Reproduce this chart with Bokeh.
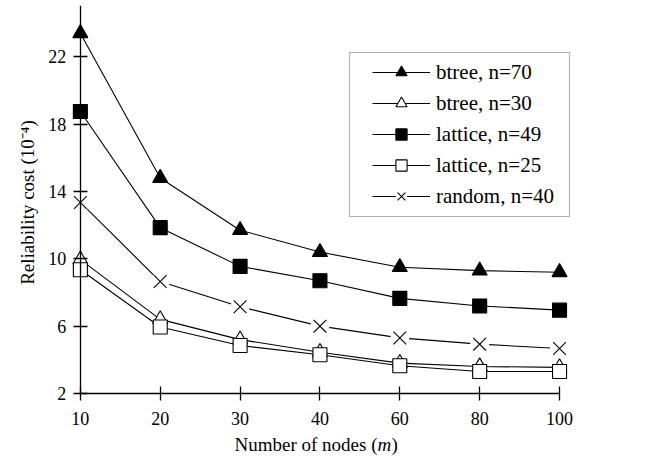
import math
from bokeh.plotting import figure
from bokeh.models import Range1d, FixedTicker, Legend, LegendItem, BoxAnnotation, Label
from bokeh.embed import file_html
from bokeh.resources import INLINE

# Number of nodes (m) – plotted at evenly spaced positions
nodes = ["10", "20", "30", "40", "60", "80", "100"]

# Reliability cost (x 1e-4) per topology
btree_70 = [23.4, 14.8, 11.7, 10.4, 9.5, 9.3, 9.2]
btree_30 = [9.95, 6.4, 5.2, 4.45, 3.8, 3.6, 3.55]
lattice_49 = [18.75, 11.85, 9.55, 8.7, 7.65, 7.2, 6.95]
lattice_25 = [9.35, 5.95, 4.85, 4.3, 3.65, 3.3, 3.3]
random_40 = [13.35, 8.65, 7.15, 6.0, 5.3, 4.93, 4.67]

y_ticks = [2, 6, 10, 14, 18, 22]

xs = list(range(len(nodes)))
FONT = "Liberation Serif"
Y_MIN, Y_MAX = 2, 25.05

# the frame fills the canvas to the left and bottom; both axes are pinned
# (x axis at y = 2, y axis at the first node) so nothing gets clipped
p = figure(width=645, height=466, output_backend="svg", toolbar_location=None,
           x_range=Range1d(-1.0, len(nodes) - 1 + 0.2), y_range=Range1d(-2.34, Y_MAX),
           min_border_left=0, min_border_right=70, min_border_top=5, min_border_bottom=0)
p.outline_line_color = None
p.grid.visible = False
p.background_fill_color = "white"
p.border_fill_color = "white"

for ax in (p.xaxis[0], p.yaxis[0]):
    ax.axis_line_color = "black"
    ax.axis_line_width = 1.3
    ax.major_tick_line_color = "black"
    ax.major_tick_line_width = 1.3
    ax.major_tick_in = 7
    ax.major_tick_out = 7
    ax.minor_tick_line_color = None
    ax.major_label_text_font = FONT
    ax.major_label_text_font_size = "18px"
    ax.major_label_text_color = "black"

p.xaxis.ticker = FixedTicker(ticks=xs)
p.xaxis.fixed_location = Y_MIN
p.xaxis.bounds = (0, len(nodes) - 1)
p.xaxis.major_label_overrides = {i: lab for i, lab in zip(xs, nodes)}
p.xaxis.major_label_standoff = 12

p.yaxis.ticker = FixedTicker(ticks=y_ticks)
p.yaxis.fixed_location = 0
p.yaxis.bounds = (Y_MIN, Y_MAX)
p.yaxis.major_label_standoff = 7

series = [
    ("btree, n=70", btree_70, "triangle", "black", 15),
    ("btree, n=30", btree_30, "triangle", "white", 15),
    ("lattice, n=49", lattice_49, "square", "black", 14),
    ("lattice, n=25", lattice_25, "square", "white", 14),
    ("random, n=40", random_40, "x", "black", 18),
]

items = []
for label, ys, marker, fill, size in series:
    rends = [p.line(xs, ys, line_color="black", line_width=1.1)]
    if marker == "x":
        # small white halo so the line stops short of each cross
        rends.append(p.scatter(xs, ys, marker="circle", size=19,
                               fill_color="white", line_color=None))
    rends.append(p.scatter(xs, ys, marker=marker, size=size, fill_color=fill,
                           line_color="black", line_width=1.1))
    items.append(LegendItem(label=label, renderers=rends))

legend = Legend(items=items, location=(372, 256), padding=8, spacing=3,
                glyph_width=58, glyph_height=28, label_height=28,
                label_standoff=6, label_width=110,
                label_text_font=FONT, label_text_font_size="21px",
                label_text_color="black",
                border_line_color=None, background_fill_alpha=0.0, margin=0)
p.add_layout(legend, "center")

# frame around the legend
p.add_layout(BoxAnnotation(left=349, right=569, top=52, bottom=216,
                           left_units="canvas", right_units="canvas",
                           top_units="canvas", bottom_units="canvas",
                           fill_alpha=0, line_color="black", line_width=1.2,
                           level="overlay"))

# axis titles (x title has an italic m)
lab_style = dict(x_units="canvas", y_units="canvas", text_font=FONT,
                 text_font_size="19px", text_color="black")
p.add_layout(Label(x=377, y=444, text="Number of nodes (", text_align="right",
                   text_baseline="alphabetic", **lab_style))
p.add_layout(Label(x=377, y=444, text="m", text_align="left", text_font_style="italic",
                   text_baseline="alphabetic", **lab_style))
p.add_layout(Label(x=391, y=444, text=")", text_align="left",
                   text_baseline="alphabetic", **lab_style))
p.add_layout(Label(x=27, y=202, text="Reliability cost (10\u207b\u2074)", angle=math.pi / 2,
                   text_align="center", text_baseline="middle", **lab_style))

open("out.html", "w").write(file_html(p, INLINE))
